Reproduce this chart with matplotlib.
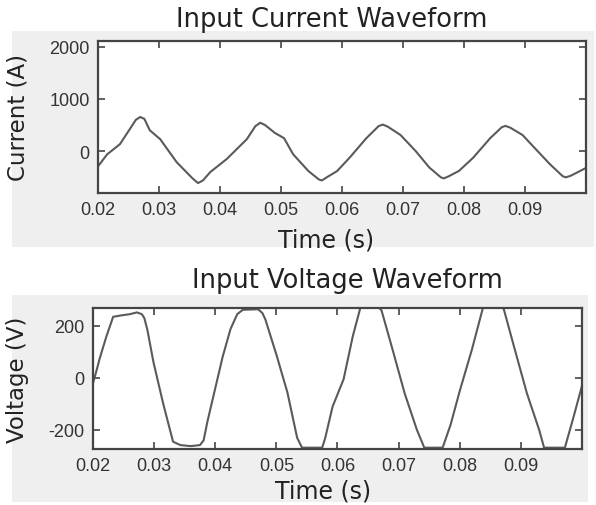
import matplotlib
matplotlib.use('Agg')
import matplotlib.pyplot as plt
from matplotlib.patches import Rectangle

# input current waveform (time in s, current in A)
t_cur = [0.0200, 0.0215, 0.0236, 0.0252, 0.0262, 0.0269, 0.0276, 0.0285, 0.0302,
         0.0329, 0.0355, 0.0364, 0.0372, 0.0384, 0.0411, 0.0444, 0.0458, 0.0466,
         0.0474, 0.0490, 0.0505, 0.0520, 0.0545, 0.0562, 0.0567, 0.0575, 0.0592,
         0.0612, 0.0640, 0.0660, 0.0667, 0.0675, 0.0696, 0.0721, 0.0743, 0.0762,
         0.0767, 0.0775, 0.0792, 0.0815, 0.0843, 0.0862, 0.0868, 0.0876, 0.0896,
         0.0916, 0.0941, 0.0962, 0.0967, 0.0975, 0.1000]
i_cur = [-290, -60, 135, 420, 600, 655, 620, 400, 230,
         -210, -520, -610, -560, -400, -150, 230, 480, 545,
         500, 350, 250, -60, -380, -540, -560, -500, -380,
         -130, 250, 480, 510, 470, 310, 0, -310, -500,
         -520, -480, -375, -125, 250, 460, 485, 450, 310,
         60, -250, -480, -500, -470, -320]

# input voltage waveform (time in s, voltage in V)
t_vol = [0.0200, 0.0206, 0.0211, 0.0222, 0.0233, 0.0245, 0.0260, 0.0272, 0.0280,
         0.0284, 0.0289, 0.0299, 0.0315, 0.0331, 0.0343, 0.0360, 0.0375, 0.0381,
         0.0387, 0.0397, 0.0412, 0.0425, 0.0436, 0.0445, 0.0470, 0.0477, 0.0482,
         0.0500, 0.0518, 0.0534, 0.0542, 0.0575, 0.0580, 0.0592, 0.0610, 0.0625,
         0.0638, 0.0650, 0.0662, 0.0672, 0.0690, 0.0710, 0.0730, 0.0742, 0.0772,
         0.0785, 0.0800, 0.0820, 0.0838, 0.0850, 0.0862, 0.0872, 0.0890, 0.0910,
         0.0930, 0.0938, 0.0972, 0.0985, 0.1000]
v_vol = [-20, 30, 75, 160, 235, 240, 245, 252, 245,
         230, 185, 60, -100, -245, -258, -262, -258, -240,
         -170, -70, 80, 188, 245, 262, 264, 250, 225,
         90, -55, -230, -268, -268, -230, -110, -5, 160,
         275, 290, 285, 260, 110, -60, -200, -268, -268,
         -180, -50, 110, 270, 290, 285, 265, 110, -60,
         -200, -268, -268, -160, -30]

x_ticks = [0.02, 0.03, 0.04, 0.05, 0.06, 0.07, 0.08, 0.09]
x_labels = ['0.02', '0.03', '0.04', '0.05', '0.06', '0.07', '0.08', '0.09']

line_col = '#5a5a5a'
edge_col = '#444444'
tick_font = 'Liberation Sans'
label_font = 'DejaVu Sans'

fig = plt.figure(figsize=(5.96, 5.06), dpi=100)
fig.patch.set_facecolor('white')

# grey panels behind each plot
fig.patches.append(Rectangle((0.0201, 0.5099), 0.9765, 0.4269, transform=fig.transFigure,
                             facecolor='#efefef', edgecolor='none', zorder=-1))
fig.patches.append(Rectangle((0.0201, 0.0059), 0.9664, 0.409, transform=fig.transFigure,
                             facecolor='#efefef', edgecolor='none', zorder=-1))

ax1 = fig.add_axes([0.1644, 0.6166, 0.8188, 0.3004])
ax2 = fig.add_axes([0.156, 0.1107, 0.8205, 0.2787])


def style(ax):
    ax.set_facecolor('white')
    for s in ax.spines.values():
        s.set_color(edge_col)
        s.set_linewidth(1.6)
    ax.tick_params(direction='in', length=5, width=1.2, color=edge_col,
                   top=True, right=True, labelsize=13, labelcolor='#333333', pad=6)
    for lab in ax.get_xticklabels() + ax.get_yticklabels():
        lab.set_fontfamily(tick_font)
    ax.set_xlim(0.02, 0.1)
    ax.set_xticks(x_ticks)
    ax.set_xticklabels(x_labels, fontfamily=tick_font)


ax1.plot(t_cur, i_cur, color=line_col, lw=1.5)
ax1.set_ylim(-800, 2110)
ax1.set_yticks([0, 1000, 2000])
ax1.set_yticklabels(['0', '1000', '2000'])
style(ax1)
ax1.set_title('Input Current Waveform', fontsize=18.5, family=label_font,
              color='#222222', x=0.48, pad=11)
ax1.set_xlabel('Time (s)', fontsize=17, family=label_font, color='#222222')
ax1.xaxis.set_label_coords(0.467, -0.23)
ax1.set_ylabel('Current (A)', fontsize=16.5, family=label_font, color='#222222')
ax1.yaxis.set_label_coords(-0.14, 0.5)

ax2.plot(t_vol, v_vol, color=line_col, lw=1.5)
ax2.set_ylim(-273, 269)
ax2.set_yticks([-200, 0, 200])
ax2.set_yticklabels(['-200', '0', '200'])
style(ax2)
ax2.set_title('Input Voltage Waveform', fontsize=18.5, family=label_font,
              color='#222222', x=0.52, pad=15)
ax2.set_xlabel('Time (s)', fontsize=17, family=label_font, color='#222222')
ax2.xaxis.set_label_coords(0.47, -0.21)
ax2.set_ylabel('Voltage (V)', fontsize=16.5, family=label_font, color='#222222')
ax2.yaxis.set_label_coords(-0.13, 0.5)

fig.savefig('out.png', dpi=100)
